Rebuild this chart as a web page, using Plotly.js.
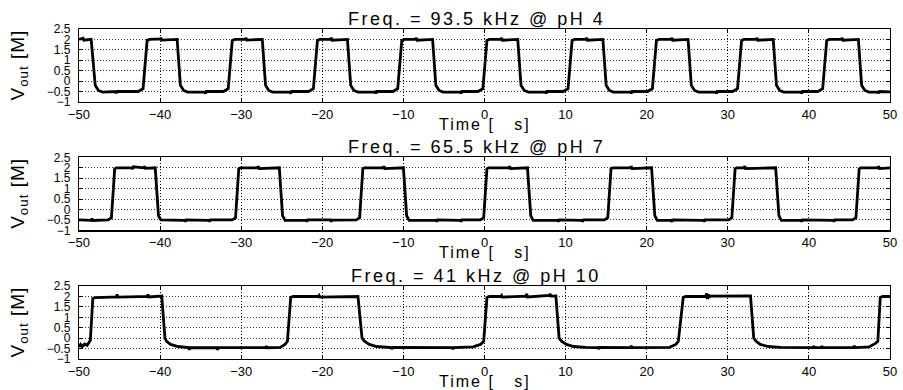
<!DOCTYPE html>
<html>
<head>
<meta charset="utf-8">
<script src="https://cdn.plot.ly/plotly-3.0.1.min.js"></script>
<style>
  html, body { margin: 0; padding: 0; background: #fff; }
  #chart { width: 903px; height: 390px; }
</style>
</head>
<body>
<div id="chart"></div>
<script>
// ---------------- data ----------------
const panelTitles = ["Freq. = 93.5 kHz @ pH 4", "Freq. = 65.5 kHz @ pH 7", "Freq. = 41 kHz @ pH 10"];
const xLabel = "Time [\u00a0\u00a0\u00a0s]";
const yLabel = "V<sub>out</sub> [M]";
const xTickVals = [-50, -40, -30, -20, -10, 0, 10, 20, 30, 40, 50];
const xTickText = ["\u221250", "\u221240", "\u221230", "\u221220", "\u221210", "0", "10", "20", "30", "40", "50"];
const yTickVals = [-1, -0.5, 0, 0.5, 1, 1.5, 2, 2.5];
const yTickText = ["\u22121", "\u22120.5", "0", "0.5", "1", "1.5", "2", "2.5"];

// pH 4 trace (time in us, Vout in V)
const t_pH4 = [
  -50, -49.5, -49.4, -48.5, -48.0, -47.6, -47.1,
  -45.5, -45.4, -45.3, -42.7, -42.1, -41.6, -41.3,
  -40.0, -39.9, -39.8, -37.9, -37.5, -37.1, -36.6,
  -34.5, -34.4, -34.3, -32.2, -31.6, -31.1, -30.8,
  -29.5, -29.4, -29.3, -27.4, -27.0, -26.6, -26.1,
  -24.0, -23.9, -23.8, -21.7, -21.1, -20.6, -20.3,
  -19.0, -18.9, -18.8, -16.9, -16.5, -16.1, -15.6,
  -13.5, -13.4, -13.3, -11.3, -10.7, -10.2, -9.9,
  -8.5, -8.4, -8.3, -6.4, -6.0, -5.6, -5.1,
  -3.0, -2.9, -2.8, -0.8, -0.2, 0.3, 0.6,
  2.0, 2.1, 2.2, 4.1, 4.5, 4.9, 5.4,
  7.5, 7.6, 7.7, 9.7, 10.3, 10.8, 11.1,
  12.5, 12.6, 12.7, 14.6, 15.0, 15.4, 15.9,
  18.0, 18.1, 18.2, 20.1, 20.7, 21.2, 21.5,
  23.0, 23.1, 23.2, 25.1, 25.5, 25.9, 26.4,
  28.5, 28.6, 28.7, 30.6, 31.2, 31.7, 32.0,
  33.5, 33.6, 33.7, 35.6, 36.0, 36.4, 36.9,
  39.0, 39.1, 39.2, 41.1, 41.7, 42.2, 42.5,
  44.0, 44.1, 44.2, 46.1, 46.5, 46.9, 47.4,
  48.5, 48.6, 48.7, 50
];
const v_pH4 = [
  2.0, 2.06, 1.96, 2.0, -0.2, -0.45, -0.53,
  -0.5, -0.58, -0.5, -0.5, -0.36, 1.95, 2.0,
  2.02, 2.07, 1.97, 2.0, -0.2, -0.45, -0.53,
  -0.52, -0.6, -0.5, -0.5, -0.36, 1.95, 2.0,
  2.0, 2.07, 1.97, 2.0, -0.2, -0.45, -0.53,
  -0.52, -0.6, -0.5, -0.5, -0.36, 1.95, 2.0,
  2.0, 2.08, 1.96, 2.0, -0.2, -0.45, -0.53,
  -0.52, -0.59, -0.5, -0.5, -0.36, 1.95, 2.0,
  2.0, 2.07, 1.96, 2.0, -0.2, -0.45, -0.53,
  -0.52, -0.59, -0.5, -0.5, -0.36, 1.95, 2.0,
  2.0, 2.07, 1.96, 2.0, -0.2, -0.45, -0.53,
  -0.52, -0.59, -0.5, -0.5, -0.36, 1.95, 2.0,
  2.0, 2.07, 1.96, 2.0, -0.2, -0.45, -0.53,
  -0.52, -0.59, -0.5, -0.5, -0.36, 1.95, 2.0,
  2.0, 2.07, 1.96, 2.0, -0.2, -0.45, -0.53,
  -0.52, -0.59, -0.5, -0.5, -0.36, 1.95, 2.0,
  2.0, 2.07, 1.96, 2.0, -0.2, -0.45, -0.53,
  -0.52, -0.59, -0.5, -0.5, -0.36, 1.95, 2.0,
  2.0, 2.07, 1.96, 2.0, -0.2, -0.45, -0.53,
  -0.52, -0.58, -0.5, -0.52
];

// pH 7 trace
const t_pH7 = [
  -50, -48.5, -48.4, -48.3, -46.4, -46.0, -45.6, -45.4,
  -43.5, -43.4, -43.3, -42.0, -41.9, -41.8, -40.6, -40.2, -39.9,
  -37.0, -36.9, -36.8, -34.0, -33.9, -33.8, -31.1, -30.7, -30.3, -30.1,
  -28.0, -27.9, -27.8, -25.3, -24.9, -24.6,
  -22.0, -21.9, -21.8, -19.0, -18.9, -18.8, -15.8, -15.4, -15.0, -14.8,
  -12.5, -12.4, -12.3, -10.0, -9.6, -9.3,
  -6.0, -5.9, -5.8, -3.0, -2.9, -2.8, -0.5, -0.1, 0.3, 0.5,
  3.0, 3.1, 3.2, 5.3, 5.7, 6.0,
  9.0, 9.1, 9.2, 12.0, 12.1, 12.2, 14.8, 15.2, 15.6, 15.8,
  18.0, 18.1, 18.2, 20.6, 21.0, 21.3,
  23.0, 23.1, 23.2, 27.0, 27.1, 27.2, 30.1, 30.5, 30.9, 31.1,
  32.0, 32.1, 32.2, 35.9, 36.3, 36.6,
  39.0, 39.1, 39.2, 43.0, 43.1, 43.2, 45.4, 45.8, 46.2, 46.4,
  48.5, 48.6, 48.7, 50
];
const v_pH7 = [
  -0.5, -0.52, -0.44, -0.53, -0.5, -0.4, 1.95, 2.0,
  2.0, 1.94, 2.05, 2.0, 2.07, 1.97, 2.0, -0.3, -0.5,
  -0.52, -0.58, -0.5, -0.52, -0.58, -0.5, -0.5, -0.4, 1.95, 2.0,
  2.0, 2.07, 1.96, 2.0, -0.3, -0.52,
  -0.52, -0.58, -0.5, -0.5, -0.58, -0.51, -0.5, -0.4, 1.95, 2.0,
  2.0, 2.07, 1.96, 2.0, -0.3, -0.52,
  -0.52, -0.58, -0.5, -0.52, -0.58, -0.5, -0.5, -0.4, 1.95, 2.0,
  2.0, 2.07, 1.96, 2.0, -0.3, -0.52,
  -0.52, -0.58, -0.5, -0.52, -0.58, -0.5, -0.5, -0.4, 1.95, 2.0,
  2.0, 2.07, 1.96, 2.0, -0.3, -0.52,
  -0.52, -0.59, -0.5, -0.52, -0.58, -0.5, -0.5, -0.4, 1.95, 2.0,
  2.0, 2.08, 1.96, 2.0, -0.3, -0.52,
  -0.52, -0.58, -0.5, -0.52, -0.58, -0.5, -0.5, -0.4, 1.95, 2.0,
  2.0, 2.07, 1.96, 2.0
];

// pH 10 trace
const t_pH10 = [
  -50, -49.8, -49.6, -49.3, -49.0, -48.8, -48.6, -48.3, -48.0,
  -46.0, -45.4, -45.3, -45.2, -42.5, -41.6, -41.5, -41.4, -39.8,
  -39.4, -39.2, -38.7, -37.8, -36.5, -36.4, -36.3, -33.0, -32.9, -32.8,
  -28.5, -27.0, -26.9, -26.8, -25.2, -24.6, -24.3, -23.9, -23.6,
  -20.5, -20.4, -20.3, -15.6, -15.1, -14.8, -14.2, -13.3, -12.0,
  -11.5, -11.4, -11.3, -4.0, -3.9, -3.8, -1.4, -0.5, -0.1, 0.3, 0.6,
  2.0, 2.1, 2.2, 5.1, 5.2, 5.3, 8.0, 8.1, 8.2, 8.8,
  9.2, 9.5, 10.1, 11.0, 12.5, 14.0, 14.1, 14.2, 18.0, 18.1, 18.2,
  22.8, 23.6, 23.9, 24.5, 24.8, 27.3, 27.4, 27.5, 27.6, 27.7, 27.8, 32.8,
  33.2, 33.5, 34.0, 35.0, 36.5, 40.5, 40.6, 40.7, 41.5, 41.6, 41.7,
  45.5, 45.6, 45.7, 47.4, 48.2, 48.5, 48.8, 49.1, 50
];
const v_pH10 = [
  -0.42, -0.3, -0.4, -0.28, -0.35, -0.2, -0.1, 1.9, 1.95,
  1.97, 1.98, 2.1, 1.97, 1.99, 2.0, 2.1, 1.98, 2.02,
  0.0, -0.15, -0.3, -0.4, -0.45, -0.55, -0.45, -0.46, -0.55, -0.45,
  -0.46, -0.45, -0.38, -0.46, -0.44, -0.3, -0.15, 1.95, 2.0,
  2.0, 2.05, 1.97, 2.0, 0.0, -0.15, -0.3, -0.4, -0.44,
  -0.45, -0.52, -0.44, -0.45, -0.52, -0.45, -0.42, -0.3, -0.15, 1.95, 2.0,
  2.0, 2.05, 1.97, 2.02, 2.12, 1.98, 2.05, 2.12, 2.02, 2.03,
  0.0, -0.15, -0.3, -0.4, -0.44, -0.45, -0.52, -0.44, -0.45, -0.37, -0.45,
  -0.44, -0.3, -0.15, 1.95, 2.0, 2.01, 2.15, 1.88, 2.1, 1.95, 2.02, 2.03,
  0.0, -0.15, -0.3, -0.4, -0.44, -0.45, -0.38, -0.45, -0.45, -0.38, -0.45,
  -0.45, -0.37, -0.45, -0.42, -0.25, -0.15, 1.95, 2.0, 2.0
];

// ---------------- chart ----------------
const FONT = "'Liberation Sans', Arial, Helvetica, sans-serif";
const series = [[t_pH4, v_pH4], [t_pH7, v_pH7], [t_pH10, v_pH10]];
const domains = [[0.779, 1.0], [0.39, 0.611], [0.0, 0.221]];

const traces = series.map((s, i) => ({
  type: 'scatter', mode: 'lines',
  x: s[0], y: s[1],
  xaxis: i === 0 ? 'x' : 'x' + (i + 1),
  yaxis: i === 0 ? 'y' : 'y' + (i + 1),
  line: { color: '#000', width: 2.8 },
  hoverinfo: 'skip', showlegend: false
}));

const layout = {
  width: 903, height: 390,
  margin: { l: 79, r: 13, t: 29, b: 31 },
  paper_bgcolor: '#fff', plot_bgcolor: '#fff',
  font: { family: FONT, color: '#000', size: 12 },
  showlegend: false,
  annotations: []
};

domains.forEach((d, i) => {
  const xs = i === 0 ? 'xaxis' : 'xaxis' + (i + 1);
  const ys = i === 0 ? 'yaxis' : 'yaxis' + (i + 1);
  const xn = i === 0 ? 'x' : 'x' + (i + 1);
  const yn = i === 0 ? 'y' : 'y' + (i + 1);
  layout[xs] = {
    domain: [0, 1], anchor: yn, range: [-50, 50],
    tickmode: 'array', tickvals: xTickVals, ticktext: xTickText,
    ticks: 'inside', ticklen: 4, tickcolor: '#000', tickwidth: 1,
    showline: true, linecolor: '#000', linewidth: 1.2, mirror: 'ticks',
    showgrid: true, gridcolor: '#000', griddash: '1px,2px', gridwidth: 1,
    zeroline: false, tickfont: { size: 13, family: FONT, color: '#000' },
    ticklabelstandoff: 0, fixedrange: true
  };
  layout[ys] = {
    domain: d, anchor: xn, range: [-1, 2.5],
    tickmode: 'array', tickvals: yTickVals, ticktext: yTickText,
    ticks: 'inside', ticklen: 4, tickcolor: '#000', tickwidth: 1,
    showline: true, linecolor: '#000', linewidth: 1.2, mirror: 'ticks',
    showgrid: true, gridcolor: '#333', griddash: '1px,2px', gridwidth: 1,
    zeroline: false, tickfont: { size: 12, family: FONT, color: '#000' },
    ticklabelstandoff: 5, fixedrange: true
  };
  layout.annotations.push({
    xref: xn + ' domain', yref: yn + ' domain', x: 0.49, y: 1,
    xanchor: 'center', yanchor: 'bottom', yshift: -2, showarrow: false,
    text: '<span style="letter-spacing:2.5px">' + panelTitles[i] + '</span>',
    font: { size: 18, family: FONT, color: '#000' }
  });
  layout.annotations.push({
    xref: xn + ' domain', yref: yn + ' domain', x: 0.5, y: 0,
    xanchor: 'center', yanchor: 'top', yshift: -12, showarrow: false,
    text: '<span style="letter-spacing:2px">' + xLabel + '</span>',
    font: { size: 16, family: FONT, color: '#000' }
  });
  layout.annotations.push({
    xref: xn + ' domain', yref: yn + ' domain', x: 0, y: 0.5,
    xanchor: 'center', yanchor: 'middle', xshift: -60, showarrow: false,
    textangle: -90,
    text: '<span style="letter-spacing:1px">' + yLabel + '</span>',
    font: { size: 19, family: FONT, color: '#000' }
  });
});

Plotly.newPlot('chart', traces, layout, { staticPlot: true, displayModeBar: false });
</script>
</body>
</html>
